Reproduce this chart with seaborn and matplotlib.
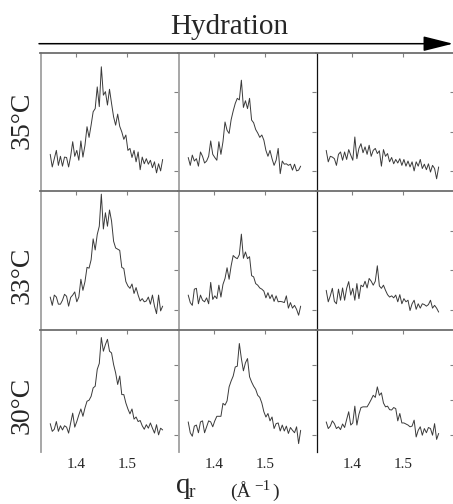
import matplotlib
matplotlib.use('Agg')
import matplotlib.pyplot as plt
import numpy as np
import pandas as pd
import seaborn as sns

# scattering vector grid (A^-1), same for all panels
q = np.round(1.35 + 0.004 * np.arange(56), 3)

temps = ['35°C', '33°C', '30°C']
xticks = [1.4, 1.5]

# intensity (arb. units), rows = temperature, cols = hydration low -> high
t35_h1 = [1.43, 1.11, 1.32, 1.53, 1.15, 1.38, 1.13, 1.36, 1.35, 1.11, 1.38, 1.75, 1.38, 1.53,
          1.28, 1.77, 1.36, 1.66, 2.13, 1.86, 2.17, 2.51, 2.59, 3.14, 2.64, 3.65, 2.93, 3.02,
          2.68, 3.08, 2.72, 2.38, 2.17, 2.45, 2.14, 2.00, 1.81, 1.92, 1.53, 1.58, 1.35, 1.53,
          1.24, 1.49, 1.04, 1.36, 1.19, 1.32, 1.18, 1.28, 1.09, 1.24, 0.96, 1.19, 1.01, 1.30]
t35_h2 = [1.35, 1.15, 1.41, 1.26, 1.32, 1.13, 1.49, 1.38, 1.21, 1.26, 1.38, 1.77, 1.43, 1.35,
          1.28, 1.75, 1.43, 1.75, 2.25, 2.04, 1.96, 2.31, 2.53, 2.72, 2.85, 2.81, 3.31, 2.62,
          2.79, 2.59, 2.85, 2.30, 2.23, 2.06, 1.97, 1.86, 1.92, 1.79, 1.53, 1.38, 1.53, 1.32,
          1.15, 1.28, 1.58, 0.94, 1.26, 1.18, 1.19, 1.15, 1.18, 1.03, 1.18, 1.01, 1.03, 1.13]
t35_h3 = [1.53, 1.24, 1.38, 1.36, 1.32, 1.15, 1.43, 1.49, 1.28, 1.49, 1.30, 1.55, 1.41, 1.28,
          1.87, 1.32, 1.58, 1.70, 1.47, 1.62, 1.43, 1.66, 1.38, 1.53, 1.58, 1.45, 1.52, 1.13,
          1.55, 1.38, 1.45, 1.24, 1.35, 1.19, 1.30, 1.21, 1.32, 1.15, 1.30, 1.13, 1.26, 1.11,
          1.24, 1.01, 1.24, 1.13, 1.30, 1.07, 1.18, 1.04, 1.19, 0.98, 1.15, 1.07, 0.81, 1.11]

t33_h1 = [1.32, 1.11, 1.37, 1.32, 1.14, 1.14, 1.24, 1.39, 1.34, 1.09, 1.31, 1.37, 1.45, 1.20,
          1.32, 1.77, 1.49, 1.71, 2.07, 2.05, 2.26, 2.79, 2.51, 2.90, 3.11, 3.92, 3.04, 3.45,
          3.11, 3.52, 3.24, 2.73, 2.56, 2.53, 2.50, 2.07, 2.04, 1.71, 1.60, 1.54, 1.65, 1.41,
          1.56, 1.37, 1.22, 1.28, 1.20, 1.22, 1.32, 1.14, 1.37, 1.09, 0.90, 1.37, 0.97, 1.09]
t33_h2 = [1.37, 1.18, 1.11, 1.52, 1.54, 1.15, 1.37, 1.24, 1.20, 1.30, 1.15, 1.69, 1.26, 1.35,
          1.28, 1.62, 1.32, 1.64, 1.79, 2.06, 1.77, 2.11, 2.37, 2.32, 2.29, 2.39, 2.91, 2.30,
          2.46, 2.29, 2.34, 1.86, 1.83, 1.66, 1.62, 1.55, 1.52, 1.47, 1.30, 1.43, 1.28, 1.38,
          1.21, 1.35, 1.20, 1.21, 1.20, 1.18, 1.35, 1.04, 1.18, 1.04, 1.11, 1.01, 0.86, 1.09]
t33_h3 = [1.49, 1.20, 1.35, 1.54, 1.21, 1.15, 1.52, 1.24, 1.55, 1.24, 1.54, 1.71, 1.37, 1.54,
          1.24, 1.66, 1.28, 1.62, 1.58, 1.72, 1.55, 1.79, 1.72, 1.62, 1.72, 2.11, 1.60, 1.54,
          1.62, 1.49, 1.38, 1.32, 1.35, 1.30, 1.37, 1.20, 1.38, 1.15, 1.28, 1.20, 1.24, 0.98,
          1.15, 1.24, 1.01, 1.15, 1.04, 1.15, 1.13, 1.09, 1.13, 1.24, 1.04, 1.11, 1.04, 0.94]

t30_h1 = [1.31, 1.09, 1.15, 1.37, 1.09, 1.25, 1.13, 1.25, 1.21, 1.04, 1.33, 1.61, 1.21, 1.37,
          1.56, 1.73, 1.52, 1.76, 1.95, 1.98, 2.09, 2.33, 2.38, 2.86, 3.03, 3.77, 3.38, 3.57,
          3.72, 3.38, 3.33, 3.00, 2.76, 2.43, 2.67, 2.14, 2.14, 1.90, 1.73, 1.59, 1.73, 1.44,
          1.50, 1.37, 1.40, 1.25, 1.15, 1.28, 1.18, 1.33, 1.18, 1.04, 1.28, 0.99, 1.18, 1.13]
t30_h2 = [1.36, 1.05, 0.95, 1.24, 1.27, 1.05, 1.36, 1.39, 1.05, 1.22, 1.39, 1.36, 1.22, 1.39,
          1.52, 1.52, 1.52, 1.89, 1.84, 1.96, 2.36, 2.53, 2.67, 2.93, 2.95, 3.60, 3.17, 2.82,
          3.05, 3.17, 2.65, 2.50, 2.38, 2.29, 2.12, 2.06, 1.90, 1.65, 1.50, 1.60, 1.39, 1.50,
          1.17, 1.31, 1.33, 1.10, 1.27, 1.10, 1.24, 1.03, 1.20, 1.12, 1.05, 1.22, 0.74, 1.12]
t30_h3 = [1.36, 1.17, 1.24, 1.39, 1.31, 1.17, 1.22, 1.14, 1.30, 1.20, 1.43, 1.65, 1.27, 1.33,
          1.81, 1.27, 1.58, 1.77, 1.79, 1.79, 1.79, 1.89, 2.00, 2.12, 2.06, 2.36, 2.12, 2.19,
          1.90, 1.79, 1.81, 1.71, 1.70, 1.77, 1.74, 1.39, 1.60, 1.33, 1.33, 1.30, 1.27, 1.22,
          1.24, 1.41, 0.93, 1.12, 1.22, 0.98, 1.17, 1.05, 1.20, 1.17, 0.98, 1.31, 0.86, 1.03]

grid = [[t35_h1, t35_h2, t35_h3],
        [t33_h1, t33_h2, t33_h3],
        [t30_h1, t30_h2, t30_h3]]

sns.set_style('white')
plt.rcParams['font.family'] = ['Liberation Serif', 'DejaVu Serif']

W, H = 453, 504
fig = plt.figure(figsize=(W / 100, H / 100), dpi=100)

def fx(px):
    return px / W

def fy(py):
    return 1 - py / H

col_left = [40.5, 178.5, 316.5]
col_w = 137.5
row_top = [53, 191, 329.5]
row_h = [138, 138.5, 122.5]
vcol = ['#a0a0a0', '#a0a0a0', '#111111']

for r in range(3):
    for c in range(3):
        ax = fig.add_axes([fx(col_left[c]), fy(row_top[r] + row_h[r]),
                           fx(col_w), row_h[r] / H])
        df = pd.DataFrame({'q': q, 'I': grid[r][c]})
        sns.lineplot(data=df, x='q', y='I', ax=ax, color='#3a3a3a', lw=0.7)
        ax.set_xlim(1.331, 1.6)
        ax.set_ylim(0.5, 4.0)
        ax.set_xticks(xticks)
        ax.set_yticks([1, 2, 3])
        ax.set_xlabel('')
        ax.set_ylabel('')
        ax.tick_params(direction='in', length=3, width=0.8, color='#808080',
                       top=True, right=True, labelleft=False,
                       labelbottom=(r == 2), labelsize=11, pad=4)
        ax.spines['top'].set_color('#6e6e6e')
        ax.spines['top'].set_linewidth(1.3)
        ax.spines['bottom'].set_visible(False)
        ax.spines['right'].set_visible(False)
        ax.spines['left'].set_color(vcol[c])
        ax.spines['left'].set_linewidth(1.3 if c < 2 else 0.9)
        if r == 2:
            ax.tick_params(axis='x', bottom=False)
        ax.patch.set_alpha(0)

# row labels
for r, t in enumerate(temps):
    yc = [120, 275, 405][r]
    fig.text(fx(22), fy(yc), t, rotation=90, ha='center', va='center', fontsize=20)

# hydration arrow
fig.text(fx(229), fy(27), 'Hydration', ha='center', va='center', fontsize=21)
fig.add_artist(matplotlib.patches.FancyArrowPatch(
    (fx(39), fy(43.7)), (fx(453), fy(43.7)), transform=fig.transFigure,
    arrowstyle='-|>,head_length=0.8,head_width=0.2', mutation_scale=23,
    lw=1.1, color='black', shrinkA=0, shrinkB=0))

# axis label q_r (A^-1)
fig.text(fx(176), fy(493), 'q', fontsize=21, va='baseline', ha='left')
fig.text(fx(189), fy(497), 'r', fontsize=14, va='baseline', ha='left')
fig.text(fx(230), fy(497), '(Å', fontsize=14, va='baseline', ha='left')
fig.text(fx(254), fy(490), '−1', fontsize=11, va='baseline', ha='left')
fig.text(fx(272), fy(497), ')', fontsize=14, va='baseline', ha='left')

plt.savefig('out.png', dpi=100)
